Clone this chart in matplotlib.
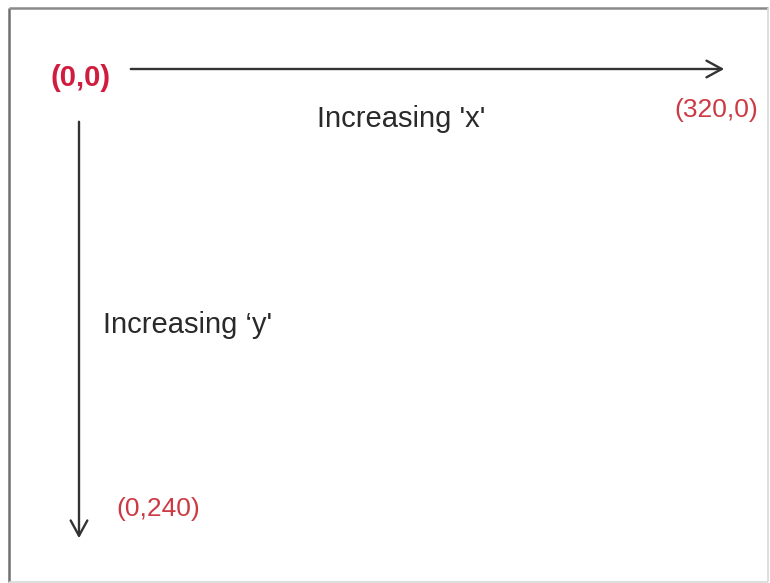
import matplotlib
matplotlib.use("Agg")
import matplotlib.pyplot as plt
from matplotlib.patches import FancyArrowPatch

# Diagram content
labels = ["(0,0)", "(320,0)", "(0,240)"]
captions = ["Increasing 'x'", "Increasing \u2018y'"]

W, H = 770, 583
fig = plt.figure(figsize=(W / 100, H / 100), dpi=100)
ax = fig.add_axes([0, 0, 1, 1])
ax.set_xlim(0, W)
ax.set_ylim(H, 0)
ax.axis("off")

fam = ["Liberation Sans Narrow", "Liberation Sans", "DejaVu Sans"]

# frame: darker top/left, faint right/bottom
ax.plot([9, 9], [8, 582], color="#707070", lw=1.8, solid_capstyle="butt")
ax.plot([9, 768], [8, 8], color="#8a8a8a", lw=1.8, solid_capstyle="butt")
ax.plot([768, 768], [8, 582], color="#d8d8d8", lw=1.2, solid_capstyle="butt")
ax.plot([9, 768], [582, 582], color="#d8d8d8", lw=1.2, solid_capstyle="butt")

# arrows
style = "->,head_length=11,head_width=6"
ax.add_patch(FancyArrowPatch((128, 69), (727, 69), arrowstyle=style,
                             mutation_scale=1, color="#333333", lw=1.7))
ax.add_patch(FancyArrowPatch((79, 119), (79, 541), arrowstyle=style,
                             mutation_scale=1, color="#333333", lw=1.7))

ax.text(81, 78, labels[0], color="#d01c3e", fontsize=21, fontweight="bold", family=fam,
        ha="center", va="center")
ax.text(716, 110, labels[1], color="#cc3a44", fontsize=19, family=fam, ha="center", va="center")
ax.text(158, 509, labels[2], color="#cc3a44", fontsize=19, family=fam, ha="center", va="center")

ax.text(401, 119, captions[0], color="#2a2a2a", fontsize=21, family=fam, ha="center", va="center")
ax.text(103, 325, captions[1], color="#2a2a2a", fontsize=21, family=fam, ha="left", va="center")

fig.savefig("out.png", dpi=100)
